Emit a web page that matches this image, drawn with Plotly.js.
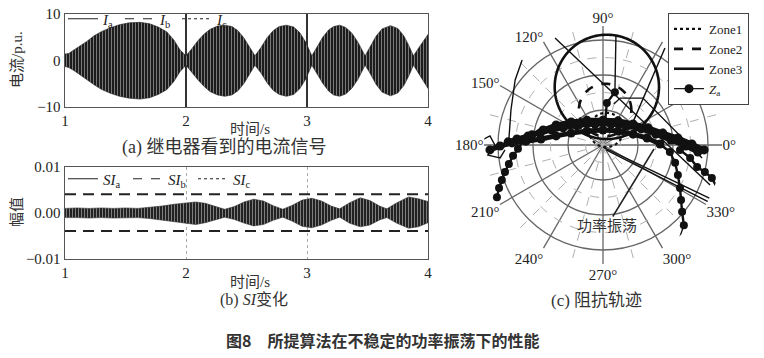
<!DOCTYPE html>
<html><head><meta charset="utf-8">
<script src="https://cdn.plot.ly/plotly-3.0.1.min.js"></script>
<style>html,body{margin:0;padding:0;background:#fff;}#chart{width:764px;height:358px;}</style>
</head><body><div id="chart"></div>
<script>
// ---------- (a) current seen by relay: envelope of the oscillating signal ----------
const timeA = [1.00,1.03,1.07,1.12,1.18,1.24,1.30,1.37,1.45,1.53,1.62,1.70,1.77,1.84,1.90,1.95,2.00,2.05,2.10,2.15,2.20,2.26,2.32,2.38,2.43,2.48,2.53,2.57,2.62,2.67,2.72,2.77,2.83,2.89,2.94,2.99,3.04,3.08,3.13,3.18,3.22,3.27,3.32,3.37,3.42,3.48,3.52,3.57,3.62,3.69,3.75,3.80,3.84,3.88,3.92,3.96,4.00];
const envAUpper = [1.4,1.5,2.2,3.0,4.1,5.3,6.2,7.0,7.7,8.1,8.2,7.9,7.2,6.2,4.4,2.3,1.0,2.6,4.3,5.7,6.7,7.4,7.6,7.3,6.4,4.8,2.7,1.0,2.8,4.9,6.4,7.3,7.6,7.2,6.0,3.9,1.0,2.8,5.0,6.6,7.3,7.6,7.1,5.9,4.0,1.0,2.8,5.2,6.8,7.5,6.9,5.3,3.3,1.0,2.6,4.2,5.6];
const envALower = [-1.3,-1.5,-2.1,-3.0,-4.0,-5.2,-6.2,-7.0,-7.7,-8.1,-8.3,-8.0,-7.3,-6.3,-4.5,-2.4,-1.0,-2.5,-4.2,-5.6,-6.7,-7.4,-7.7,-7.4,-6.5,-4.9,-2.8,-1.0,-2.7,-4.8,-6.4,-7.3,-7.7,-7.3,-6.1,-4.0,-1.0,-2.7,-4.9,-6.6,-7.4,-7.7,-7.2,-6.0,-4.1,-1.0,-2.7,-5.1,-6.8,-7.6,-7.0,-5.4,-3.4,-1.0,-2.6,-4.3,-6.0];
const currentNames = ['<i>I</i><sub>a</sub>','<i>I</i><sub>b</sub>','<i>I</i><sub>c</sub>'];

// ---------- (b) SI variation ----------
const timeB = [1.00,1.10,1.20,1.30,1.40,1.50,1.60,1.70,1.80,1.90,2.00,2.08,2.16,2.24,2.32,2.40,2.48,2.56,2.64,2.72,2.80,2.88,2.96,3.04,3.12,3.20,3.27,3.35,3.44,3.52,3.60,3.66,3.74,3.84,3.92,4.00];
const siUpper = [0.0010,0.0011,0.0010,0.0011,0.0010,0.0011,0.0010,0.0012,0.0015,0.0019,0.0022,0.0024,0.0021,0.0014,0.0008,0.0014,0.0024,0.0030,0.0026,0.0016,0.0008,0.0017,0.0028,0.0032,0.0026,0.0015,0.0009,0.0022,0.0033,0.0027,0.0015,0.0009,0.0022,0.0035,0.0031,0.0025];
const siLower = [-0.0010,-0.0010,-0.0011,-0.0010,-0.0011,-0.0011,-0.0010,-0.0012,-0.0015,-0.0019,-0.0022,-0.0025,-0.0021,-0.0015,-0.0009,-0.0014,-0.0022,-0.0028,-0.0025,-0.0016,-0.0009,-0.0018,-0.0029,-0.0032,-0.0026,-0.0016,-0.0009,-0.0022,-0.0030,-0.0026,-0.0015,-0.0010,-0.0022,-0.0033,-0.0030,-0.0021];
const siThreshold = [0.0041, -0.0039];
const siNames = ['<i>SI</i><sub>a</sub>','<i>SI</i><sub>b</sub>','<i>SI</i><sub>c</sub>'];
const timeTicks = [1,2,3,4];

// ---------- (c) impedance trajectory (R, X in impedance-plane units) ----------
const zoneNames = ['Zone1','Zone2','Zone3'];
const zoneCenterR = [0.09, 0.06, 0.11];
const zoneCenterX = [0.43, 1.00, 1.66];
const zoneRadius = [0.49, 0.75, 1.49];
const angleTicks = [0,30,60,90,120,150,180,210,240,270,300,330];
const angleLabels = ['0°','','','90°','120°','150°','180°','210°','240°','270°','300°','330°'];
// dense swing band (three passes across the arch)
const zaBandR = [-2.26,-2.03,-1.71,-1.34,-0.91,-0.46,0.00,0.43,0.86,1.29,1.71,2.14,2.54,2.89,null,
  -2.71,-2.46,-2.14,-1.80,-1.46,-1.14,-0.69,-0.23,0.23,0.66,1.09,1.51,1.94,2.37,2.71,null,
  -3.23,-2.94,-2.60,-2.20,-1.77,-1.34,-0.91,-0.46,0.00,0.43,0.86,1.26,1.63];
const zaBandX = [0.14,0.29,0.43,0.57,0.66,0.71,0.71,0.69,0.60,0.49,0.34,0.20,0.03,-0.14,null,
  0.09,0.17,0.26,0.34,0.43,0.49,0.57,0.60,0.60,0.54,0.46,0.31,0.14,-0.03,-0.20,null,
  -0.14,-0.03,0.06,0.11,0.17,0.26,0.34,0.40,0.43,0.40,0.31,0.20,0.03];
// branches leaving the band
const zaBranchR = [-3.03,-2.97,-2.89,-2.80,-2.69,-2.57,-2.43,-2.26,null,
  1.63,1.91,2.06,2.14,2.20,2.23,2.26,2.31,null,
  2.20,2.49,2.69,2.91,3.11,3.23,null,
  0.06,0.11,0.34];
const zaBranchX = [-1.49,-1.23,-1.00,-0.77,-0.54,-0.31,-0.11,0.14,null,
  0.03,-0.20,-0.51,-0.86,-1.23,-1.57,-1.91,-2.29,null,
  -0.14,-0.37,-0.63,-0.77,-0.94,-1.17,null,
  0.66,1.20,1.51];
const jumpR = [-1.37,3.06,null, 0.00,3.14,null, 0.09,3.14,null, 0.31,0.49,1.14,2.83,null, -2.31,-2.51,-2.63,-2.69,null, 0.37,0.34,null, 0.86,1.77,null, 2.31,2.17,null, -3.46,-3.23,-3.09,-3.29,-2.94,-2.80];
const jumpX = [3.06,-1.14,null, -0.06,-1.57,null, -0.14,-1.69,null, 1.17,1.34,1.34,-0.37,null, 2.43,1.86,1.00,0.14,null, 3.14,1.51,null, 0.66,2.77,null, -2.29,-2.71,null, 0.14,0.26,0.00,-0.29,-0.37,-0.14];

// ---------- helpers ----------
const W = 764, H = 358;
const px = x => x / W, py = y => 1 - y / H;
const SERIF = '"Liberation Serif","Times New Roman","Noto Sans CJK SC",serif';
const CJK = '"Liberation Serif","Noto Sans CJK SC",serif';
const toPolar = (R, X) => ({
  r: R.map((v, i) => v === null ? null : Math.hypot(v, X[i])),
  theta: R.map((v, i) => v === null ? null : Math.atan2(X[i], v) * 180 / Math.PI)
});
const dashes = ['solid', 'dash', 'dot'];

const traces = [];
// (a) envelope
traces.push({
  type: 'scatter', x: timeA.concat(timeA.slice().reverse()), y: envAUpper.concat(envALower.slice().reverse()),
  xaxis: 'x', yaxis: 'y', mode: 'lines', fill: 'toself', showlegend: false, hoverinfo: 'skip',
  line: {color: '#222', width: 0.6},
  fillcolor: '#2a2a2a',
  fillpattern: {shape: '|', size: 3, solidity: 0.2, fgcolor: '#b8b8b8', bgcolor: '#1c1c1c'}
});
currentNames.forEach((n, i) => traces.push({
  type: 'scatter', x: [null], y: [null], xaxis: 'x', yaxis: 'y', mode: 'lines', name: n,
  legend: 'legend', line: {color: '#222', width: 1.1, dash: dashes[i]}
}));
// invisible spacer entry so the last legend label is not clipped
traces.push({type: 'scatter', x: [null], y: [null], xaxis: 'x', yaxis: 'y', mode: 'lines', name: '\u00a0',
  legend: 'legend', line: {color: 'rgba(0,0,0,0)', width: 0}});
// (b) envelope
traces.push({
  type: 'scatter', x: timeB.concat(timeB.slice().reverse()), y: siUpper.concat(siLower.slice().reverse()),
  xaxis: 'x2', yaxis: 'y2', mode: 'lines', fill: 'toself', showlegend: false, hoverinfo: 'skip',
  line: {color: '#333', width: 0.6},
  fillcolor: '#333',
  fillpattern: {shape: '|', size: 3, solidity: 0.22, fgcolor: '#b0b0b0', bgcolor: '#222'}
});
siThreshold.forEach(v => traces.push({
  type: 'scatter', x: [timeTicks[0], timeTicks[timeTicks.length - 1]], y: [v, v], xaxis: 'x2', yaxis: 'y2',
  mode: 'lines', showlegend: false, hoverinfo: 'skip', line: {color: '#222', width: 2, dash: '11px,7px'}
}));
siNames.forEach((n, i) => traces.push({
  type: 'scatter', x: [null], y: [null], xaxis: 'x2', yaxis: 'y2', mode: 'lines', name: n,
  legend: 'legend2', line: {color: '#222', width: 1.1, dash: dashes[i]}
}));
// (c) polar
traces.push({type: 'scatterpolar', subplot: 'polar', r: [null], theta: [null], showlegend: false, hoverinfo: 'skip'});
const zoneDash = ['dot', 'dash', 'solid'];
zoneNames.forEach((n, i) => {
  const R = [], X = [];
  for (let k = 0; k <= 180; k++) {
    const a = 2 * Math.PI * k / 180;
    R.push(zoneCenterR[i] + zoneRadius[i] * Math.cos(a));
    X.push(zoneCenterX[i] + zoneRadius[i] * Math.sin(a));
  }
  const p = toPolar(R, X);
  traces.push({type: 'scatterpolar', subplot: 'polar2', r: p.r, theta: p.theta, mode: 'lines', name: n,
    legend: 'legend3', line: {color: '#111', width: i === 0 ? 2.2 : 2.6, dash: zoneDash[i]}});
});
const jp = toPolar(jumpR, jumpX);
traces.push({type: 'scatterpolar', subplot: 'polar2', r: jp.r, theta: jp.theta, mode: 'lines',
  showlegend: false, connectgaps: false, hoverinfo: 'skip', line: {color: '#111', width: 1.4}});
const bp = toPolar(zaBranchR, zaBranchX);
traces.push({type: 'scatterpolar', subplot: 'polar2', r: bp.r, theta: bp.theta, mode: 'lines+markers',
  showlegend: false, connectgaps: false, hoverinfo: 'skip',
  line: {color: '#111', width: 2.4}, marker: {color: '#111', size: 8}});
const zp = toPolar(zaBandR, zaBandX);
traces.push({type: 'scatterpolar', subplot: 'polar2', r: zp.r, theta: zp.theta, mode: 'lines+markers',
  showlegend: false, connectgaps: false, hoverinfo: 'skip',
  line: {color: '#111', width: 5}, marker: {color: '#111', size: 9}});
traces.push({type: 'scatterpolar', subplot: 'polar2', r: [null], theta: [null], mode: 'lines+markers',
  name: '<i>Z</i><sub>a</sub>', legend: 'legend3',
  line: {color: '#111', width: 1.2}, marker: {color: '#111', size: 9}});

const axFont = {family: SERIF, size: 15, color: '#222'};
const frame = {showline: true, mirror: true, linecolor: '#555', linewidth: 1.4, ticks: '', zeroline: false};
const polarDomain = {x: [px(484), px(722)], y: [py(264), py(26)]};
const note = (x, y, text, size, extra) => Object.assign({xref: 'paper', yref: 'paper', x: px(x), y: py(y),
  xanchor: 'center', yanchor: 'middle', text: text, showarrow: false,
  font: {family: CJK, size: size, color: '#333'}}, extra || {});

const layout = {
  width: W, height: H, autosize: false,
  margin: {l: 0, r: 0, t: 0, b: 0},
  paper_bgcolor: '#fff', plot_bgcolor: '#fff',
  font: {family: SERIF, color: '#222'},
  xaxis: Object.assign({domain: [px(65), px(428)], anchor: 'y', range: [1, 4], tickvals: timeTicks,
    showgrid: true, gridcolor: '#333', gridwidth: 1.3, tickfont: axFont}, frame),
  yaxis: Object.assign({domain: [py(107), py(14)], anchor: 'x', range: [-10, 10], tickvals: [-10, 0, 10],
    ticktext: ['\u221210', '0', '10'], showgrid: false, tickfont: axFont}, frame),
  xaxis2: Object.assign({domain: [px(65), px(428)], anchor: 'y2', range: [1, 4], tickvals: timeTicks,
    showgrid: true, gridcolor: '#aaa', gridwidth: 1, griddash: 'dot', tickfont: axFont}, frame),
  yaxis2: Object.assign({domain: [py(259), py(167)], anchor: 'x2', range: [-0.01, 0.01], tickvals: [-0.01, 0, 0.01],
    ticktext: ['\u22120.01', '0.00', '0.01'], showgrid: false, tickfont: axFont}, frame),
  polar: {
    domain: polarDomain, bgcolor: '#fff',
    radialaxis: {range: [0, 3.4], tickvals: [1, 2, 3], showticklabels: false, ticks: '', showline: false,
      gridcolor: '#666', gridwidth: 1.3},
    angularaxis: {tickmode: 'array', tickvals: angleTicks, ticktext: angleLabels, showline: false, ticks: '',
      gridcolor: '#666', gridwidth: 1.3, rotation: 0, direction: 'counterclockwise', tickfont: axFont}
  },
  polar2: {
    domain: polarDomain, bgcolor: 'rgba(0,0,0,0)',
    radialaxis: {range: [0, 3.4], tickvals: [0.5, 1.5, 2.5], showticklabels: false, ticks: '', showline: false,
      gridcolor: '#b0b0b0', gridwidth: 1, griddash: 'dash'},
    angularaxis: {tickmode: 'linear', tick0: 15, dtick: 30, showticklabels: false, showline: false, ticks: '',
      gridcolor: '#b0b0b0', gridwidth: 1, griddash: 'dash', rotation: 0, direction: 'counterclockwise'}
  },
  legend: {orientation: 'h', x: px(63), xanchor: 'left', y: py(19), yanchor: 'middle', bgcolor: 'rgba(0,0,0,0)',
    font: {family: SERIF, size: 15, color: '#222'}, itemwidth: 30, entrywidth: 12, tracegroupgap: 0},
  legend2: {orientation: 'h', x: px(63), xanchor: 'left', y: py(179), yanchor: 'middle', bgcolor: 'rgba(0,0,0,0)',
    font: {family: SERIF, size: 15, color: '#222'}, itemwidth: 30, entrywidth: 20, tracegroupgap: 0},
  legend3: {x: px(668), xanchor: 'left', y: py(13), yanchor: 'top', bgcolor: '#fff', bordercolor: '#444',
    borderwidth: 1, font: {family: SERIF, size: 13, color: '#222'}, itemwidth: 30, tracegroupgap: 0},
  annotations: [
    note(17, 60, '电流/p.u.', 15, {textangle: -90}),
    note(17, 212, '幅值', 15, {textangle: -90}),
    note(250, 129, '时间/s', 15),
    note(250, 282, '时间/s', 15),
    note(224, 147, '(a) 继电器看到的电流信号', 18),
    note(254, 300, '(b) <i>SI</i>变化', 16),
    note(596, 300, '(c) 阻抗轨迹', 17),
    {xref: 'paper', yref: 'paper', x: px(654), y: py(149), ax: -47, ay: 77, text: '功率振荡', showarrow: true,
      arrowhead: 0, arrowwidth: 1.5, arrowcolor: '#222', font: {family: CJK, size: 15, color: '#333'}},
    note(382, 340, '图8\u3000所提算法在不稳定的功率振荡下的性能', 16,
      {font: {family: '"Noto Sans CJK SC",sans-serif', size: 16, color: '#333', weight: 'bold'}})
  ]
};

Plotly.newPlot('chart', traces, layout, {staticPlot: true, displayModeBar: false});
</script>
</body></html>
